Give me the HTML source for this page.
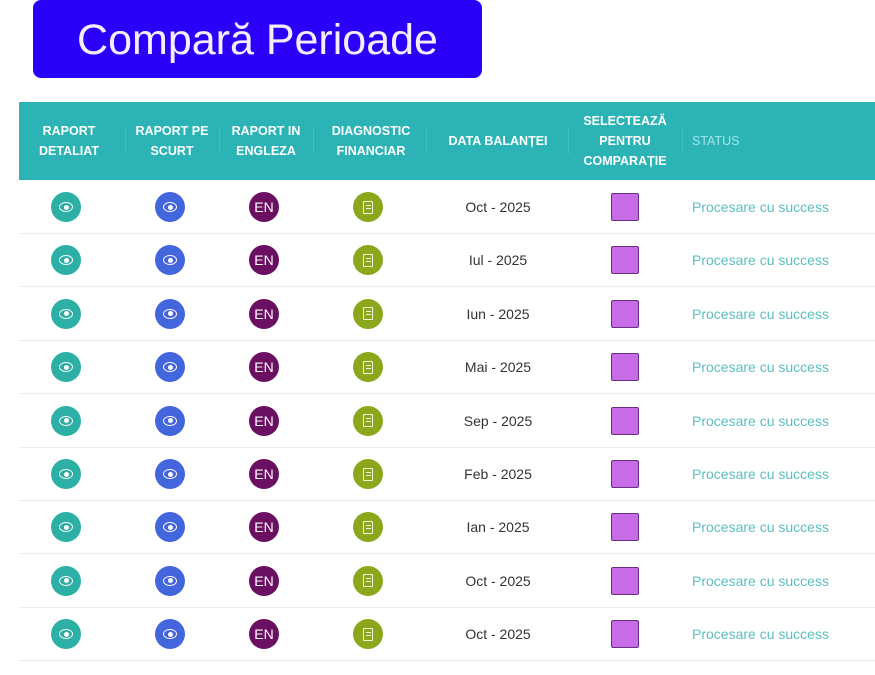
<!DOCTYPE html>
<html><head><style>
body{margin:0;width:875px;height:675px;background:#fff;position:relative;overflow:hidden;font-family:"Liberation Sans",sans-serif}
.btn{position:absolute;left:33px;top:0;width:449px;height:78px;background:#2b00f8;border-radius:8px;color:#f4eefc;font-size:43px;text-align:center;line-height:80px}
.hdr{position:absolute;left:19px;top:102px;width:856px;height:78px;background:#2bb3b5}
.h{position:absolute;color:#fff;font-weight:bold;font-size:12.5px;text-align:center;line-height:20px;transform:translateX(-50%);white-space:nowrap}
.sep{position:absolute;top:128px;width:1px;height:26px;background:#3fc0c2}
.row{position:absolute;left:19px;width:856px;border-bottom:1px solid #eee}
.c{position:absolute;width:30px;height:30px;border-radius:50%;transform:translate(-50%,-50%);display:flex;align-items:center;justify-content:center;color:#fff;font-size:14px}
.t{position:absolute;transform:translate(-50%,-50%);font-size:14px;color:#333}
.s{position:absolute;transform:translateY(-50%);font-size:14px;color:#5cbfc0}
.cb{position:absolute;width:26px;height:26px;background:#c86be6;border:1px solid #6a2e80;border-radius:2px;transform:translate(-50%,-50%)}
.eye{width:12px;height:8px;border:1.5px solid #fff;border-radius:50%;position:relative}
.eye:after{content:"";position:absolute;left:3.5px;top:1.5px;width:5px;height:5px;border-radius:50%;background:#fff}
.doc{width:8px;height:11px;border:1.5px solid #f4f4d8;border-radius:1px;background:linear-gradient(#f4f4d8,#f4f4d8) 1.5px 3px/5px 1px no-repeat,linear-gradient(#f4f4d8,#f4f4d8) 1.5px 6px/5px 1px no-repeat}
</style></head><body>
<div class="btn">Compară Perioade</div>
<div class="hdr"></div>
<div class="h" style="left:69px;top:121px">RAPORT<br>DETALIAT</div>
<div class="h" style="left:172px;top:121px">RAPORT PE<br>SCURT</div>
<div class="h" style="left:266px;top:121px">RAPORT IN<br>ENGLEZA</div>
<div class="h" style="left:371px;top:121px">DIAGNOSTIC<br>FINANCIAR</div>
<div class="h" style="left:498px;top:131px">DATA BALANȚEI</div>
<div class="h" style="left:625px;top:111px">SELECTEAZĂ<br>PENTRU<br>COMPARAȚIE</div>
<div class="h" style="left:692px;top:131px;transform:none;font-weight:normal;color:#9fe6ea">STATUS</div>
<div class="sep" style="left:125px"></div><div class="sep" style="left:219px"></div><div class="sep" style="left:313px"></div><div class="sep" style="left:426px"></div><div class="sep" style="left:568px"></div><div class="sep" style="left:682px"></div>
<div id="rows"></div>
<script>
var d=["Oct - 2025","Iul - 2025","Iun - 2025","Mai - 2025","Sep - 2025","Feb - 2025","Ian - 2025","Oct - 2025","Oct - 2025"],h="";
for(var i=0;i<9;i++){var y=207+i*53.4;
h+='<div class="row" style="top:'+(y-27)+'px;height:'+(53)+'px"></div>';
h+='<div class="c" style="left:66px;top:'+y+'px;background:#2cb0a6"><div class="eye"></div></div>';
h+='<div class="c" style="left:170px;top:'+y+'px;background:#4466dc"><div class="eye"></div></div>';
h+='<div class="c" style="left:264px;top:'+y+'px;background:#6b0f62">EN</div>';
h+='<div class="c" style="left:368px;top:'+y+'px;background:#8ba81c"><div class="doc"></div></div>';
h+='<div class="t" style="left:498px;top:'+y+'px">'+d[i]+'</div>';
h+='<div class="cb" style="left:625px;top:'+y+'px"></div>';
h+='<div class="s" style="left:692px;top:'+y+'px">Procesare cu success</div>';}
document.getElementById("rows").innerHTML=h;
</script>
</body></html>
